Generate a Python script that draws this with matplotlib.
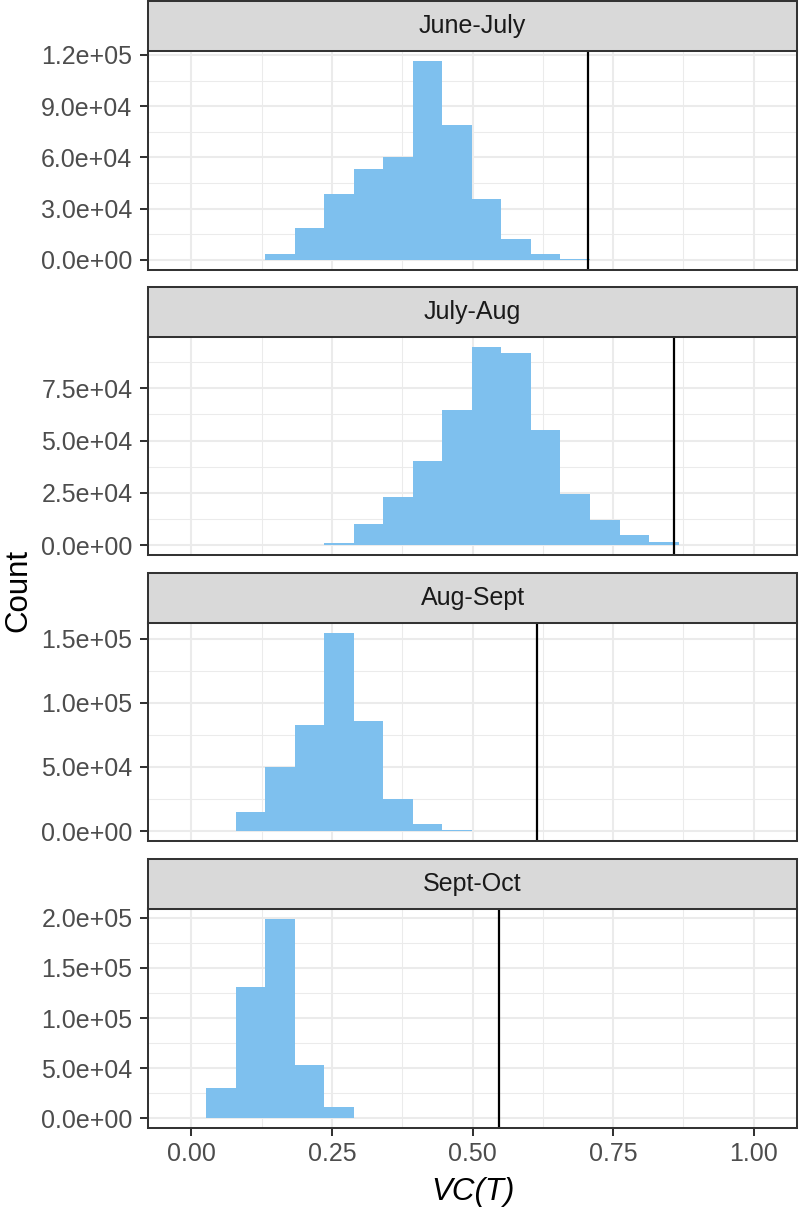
import numpy as np
import matplotlib
matplotlib.use("Agg")
import matplotlib.pyplot as plt
from matplotlib.ticker import MultipleLocator, FuncFormatter

# ---------------- data ----------------
panels = ["June-July", "July-Aug", "Aug-Sept", "Sept-Oct"]
bin_width = 0.0525
first_bin = [3, 5, 2, 1]          # index of first non-empty bin (bins centred on k*bin_width)
counts_june_july = [3100, 18900, 38700, 53100, 60100, 116500, 79000, 35800, 12100, 3500, 600]
counts_july_aug = [950, 10000, 23100, 40100, 64500, 94600, 91900, 54900, 24200, 12100, 4800, 1400, 200]
counts_aug_sept = [14800, 50100, 82600, 154200, 85900, 24900, 5700, 520]
counts_sept_oct = [29800, 131000, 198500, 53500, 11500, 800]
all_counts = [counts_june_july, counts_july_aug, counts_aug_sept, counts_sept_oct]
observed_vc = [0.7047, 0.8575, 0.6145, 0.5466]
y_major_step = [3e4, 2.5e4, 5e4, 5e4]
x_ticks = [0.0, 0.25, 0.50, 0.75, 1.00]
x_tick_labels = ["0.00", "0.25", "0.50", "0.75", "1.00"]

# ---------------- style ----------------
plt.rcParams["font.family"] = ["Liberation Sans", "DejaVu Sans"]
W, H = 800, 1208
fig = plt.figure(figsize=(W / 100, H / 100), dpi=100)

bar_color = "#7EC0EE"
grid_col = "#EBEBEB"
border_col = "#333333"
tick_txt = "#4D4D4D"

left_px, right_px = 147.7, 797.4
panel_px = [(51.0, 269.7), (337.3, 555.0), (623.3, 841.0), (909.3, 1128.3)]
strip_h = 50.5

def fig_rect(top, bottom):
    return [left_px / W, 1 - bottom / H, (right_px - left_px) / W, (bottom - top) / H]

for i, name in enumerate(panels):
    top, bottom = panel_px[i]
    ax = fig.add_axes(fig_rect(top, bottom))
    counts = np.array(all_counts[i], dtype=float)
    n = len(counts)
    edges = (first_bin[i] - 0.5 + np.arange(n + 1)) * bin_width
    ax.stairs(counts, edges, fill=True, color=bar_color, linewidth=0, zorder=2)
    ax.axvline(observed_vc[i], color="black", linewidth=1.6, zorder=3)

    M = counts.max()
    ax.set_ylim(-0.05 * M, 1.05 * M)
    ax.set_xlim(-0.0775, 1.0775)

    ax.yaxis.set_major_locator(MultipleLocator(y_major_step[i]))
    ax.yaxis.set_minor_locator(MultipleLocator(y_major_step[i] / 2))
    ax.yaxis.set_major_formatter(FuncFormatter(lambda v, p: "{:.1e}".format(v)))
    ax.set_xticks(x_ticks)
    ax.xaxis.set_minor_locator(MultipleLocator(0.125))

    ax.grid(which="major", color=grid_col, linewidth=1.45, zorder=0)
    ax.grid(which="minor", color=grid_col, linewidth=0.75, zorder=0)
    ax.set_axisbelow(True)

    for s in ax.spines.values():
        s.set_color(border_col)
        s.set_linewidth(1.45)
        s.set_zorder(4)

    ax.tick_params(axis="y", which="major", length=6, width=1.45, color=border_col,
                   labelsize=18, labelcolor=tick_txt, pad=5)
    ax.tick_params(which="minor", length=0)
    if i == len(panels) - 1:
        ax.set_xticklabels(x_tick_labels)
        ax.tick_params(axis="x", which="major", length=6, width=1.45, color=border_col,
                       labelsize=18, labelcolor=tick_txt, pad=4)
    else:
        ax.tick_params(axis="x", which="major", length=0, labelbottom=False)

    # strip
    sax = fig.add_axes(fig_rect(top - strip_h, top))
    sax.set_facecolor("#D9D9D9")
    sax.set_xticks([])
    sax.set_yticks([])
    for s in sax.spines.values():
        s.set_color(border_col)
        s.set_linewidth(1.45)
    sax.text(0.5, 0.5, name, transform=sax.transAxes, ha="center", va="center",
             fontsize=18, color="#1A1A1A")

fig.text(18 / W, 1 - 590 / H, "Count", rotation=90, ha="center", va="center", fontsize=22.5)
fig.text((left_px + right_px) / 2 / W, 1 - 1192 / H, "VC(T)", ha="center", va="center",
         fontsize=22.5, style="italic")

fig.savefig("out.png", dpi=100)
